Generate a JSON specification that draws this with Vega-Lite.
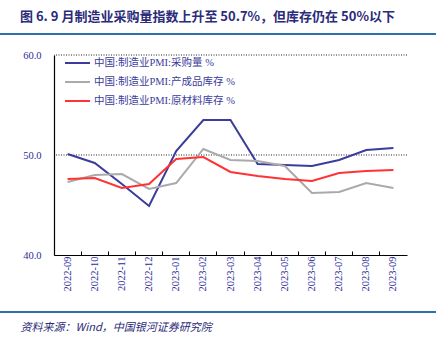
{
  "$schema": "https://vega.github.io/schema/vega-lite/v6.json",
  "autosize": {"type": "none"},
  "width": 353,
  "height": 200,
  "padding": {"left": 54, "top": 55, "right": 34, "bottom": 84},
  "background": "white",
  "config": {
    "view": {"stroke": null},
    "font": "Liberation Serif, Noto Sans CJK SC"
  },
  "title": {
    "text": "图 6. 9 月制造业采购量指数上升至 50.7%，但库存仍在 50%以下",
    "anchor": "start",
    "frame": "group",
    "dx": -34,
    "offset": 9,
    "font": "Noto Sans CJK SC",
    "fontSize": 13,
    "fontWeight": "bold",
    "color": "#2b2b7a"
  },
  "datasets": {
    "pmi": [
      {"month": "2022-09", "series": "中国:制造业PMI:采购量 %", "value": 50.1},
      {"month": "2022-10", "series": "中国:制造业PMI:采购量 %", "value": 49.2},
      {"month": "2022-11", "series": "中国:制造业PMI:采购量 %", "value": 47.1},
      {"month": "2022-12", "series": "中国:制造业PMI:采购量 %", "value": 44.9},
      {"month": "2023-01", "series": "中国:制造业PMI:采购量 %", "value": 50.4},
      {"month": "2023-02", "series": "中国:制造业PMI:采购量 %", "value": 53.5},
      {"month": "2023-03", "series": "中国:制造业PMI:采购量 %", "value": 53.5},
      {"month": "2023-04", "series": "中国:制造业PMI:采购量 %", "value": 49.1},
      {"month": "2023-05", "series": "中国:制造业PMI:采购量 %", "value": 49.0},
      {"month": "2023-06", "series": "中国:制造业PMI:采购量 %", "value": 48.9},
      {"month": "2023-07", "series": "中国:制造业PMI:采购量 %", "value": 49.5},
      {"month": "2023-08", "series": "中国:制造业PMI:采购量 %", "value": 50.5},
      {"month": "2023-09", "series": "中国:制造业PMI:采购量 %", "value": 50.7},
      {"month": "2022-09", "series": "中国:制造业PMI:产成品库存 %", "value": 47.3},
      {"month": "2022-10", "series": "中国:制造业PMI:产成品库存 %", "value": 48.0},
      {"month": "2022-11", "series": "中国:制造业PMI:产成品库存 %", "value": 48.1},
      {"month": "2022-12", "series": "中国:制造业PMI:产成品库存 %", "value": 46.6},
      {"month": "2023-01", "series": "中国:制造业PMI:产成品库存 %", "value": 47.2},
      {"month": "2023-02", "series": "中国:制造业PMI:产成品库存 %", "value": 50.6},
      {"month": "2023-03", "series": "中国:制造业PMI:产成品库存 %", "value": 49.5},
      {"month": "2023-04", "series": "中国:制造业PMI:产成品库存 %", "value": 49.4},
      {"month": "2023-05", "series": "中国:制造业PMI:产成品库存 %", "value": 48.9},
      {"month": "2023-06", "series": "中国:制造业PMI:产成品库存 %", "value": 46.2},
      {"month": "2023-07", "series": "中国:制造业PMI:产成品库存 %", "value": 46.3},
      {"month": "2023-08", "series": "中国:制造业PMI:产成品库存 %", "value": 47.2},
      {"month": "2023-09", "series": "中国:制造业PMI:产成品库存 %", "value": 46.7},
      {"month": "2022-09", "series": "中国:制造业PMI:原材料库存 %", "value": 47.6},
      {"month": "2022-10", "series": "中国:制造业PMI:原材料库存 %", "value": 47.7},
      {"month": "2022-11", "series": "中国:制造业PMI:原材料库存 %", "value": 46.7},
      {"month": "2022-12", "series": "中国:制造业PMI:原材料库存 %", "value": 47.1},
      {"month": "2023-01", "series": "中国:制造业PMI:原材料库存 %", "value": 49.6},
      {"month": "2023-02", "series": "中国:制造业PMI:原材料库存 %", "value": 49.8},
      {"month": "2023-03", "series": "中国:制造业PMI:原材料库存 %", "value": 48.3},
      {"month": "2023-04", "series": "中国:制造业PMI:原材料库存 %", "value": 47.9},
      {"month": "2023-05", "series": "中国:制造业PMI:原材料库存 %", "value": 47.6},
      {"month": "2023-06", "series": "中国:制造业PMI:原材料库存 %", "value": 47.4},
      {"month": "2023-07", "series": "中国:制造业PMI:原材料库存 %", "value": 48.2},
      {"month": "2023-08", "series": "中国:制造业PMI:原材料库存 %", "value": 48.4},
      {"month": "2023-09", "series": "中国:制造业PMI:原材料库存 %", "value": 48.5}
    ],
    "grid": [{"level": 60}, {"level": 50}],
    "separators": [{"pos": 62.1}, {"pos": 34.3}]
  },
  "layer": [
    {
      "data": {"name": "grid"},
      "mark": {"type": "rule", "stroke": "#222222", "strokeWidth": 1, "strokeDash": [1, 1.5]},
      "encoding": {
        "y": {"field": "level", "type": "quantitative", "scale": {"domain": [40, 60]}}
      }
    },
    {
      "data": {"name": "separators"},
      "mark": {"type": "rule", "stroke": "#2e6fae", "strokeWidth": 2, "clip": false},
      "encoding": {
        "y": {"field": "pos", "type": "quantitative"},
        "x": {"value": -54},
        "x2": {"value": 382}
      }
    },
    {
      "data": {"name": "pmi"},
      "mark": {"type": "line", "strokeWidth": 2},
      "encoding": {
        "x": {
          "field": "month",
          "type": "ordinal",
          "scale": {"type": "band", "paddingInner": 0, "paddingOuter": 0},
          "axis": {
            "title": "资料来源：Wind，中国银河证券研究院",
            "titleFont": "Noto Sans CJK SC",
            "titleFontStyle": "italic",
            "titleFontWeight": "normal",
            "titleFontSize": 11,
            "titleColor": "#2b2b7a",
            "titleAnchor": "start",
            "titleAlign": "left",
            "titleBaseline": "middle",
            "titleX": -34,
            "titleY": 72,
            "labelAngle": -90,
            "labelAlign": "right",
            "labelBaseline": "middle",
            "labelFontSize": 10.5,
            "labelColor": "#2b2b9a",
            "labelPadding": 5,
            "bandPosition": 0,
            "tickSize": -4,
            "tickColor": "#000000",
            "domainColor": "#000000",
            "domainWidth": 1.2,
            "grid": false
          }
        },
        "y": {
          "field": "value",
          "type": "quantitative",
          "scale": {"domain": [40, 60], "nice": false, "zero": false},
          "axis": {
            "title": null,
            "values": [40, 50, 60],
            "format": ".1f",
            "labelFontSize": 10.5,
            "labelColor": "#2b2b9a",
            "labelPadding": 13,
            "ticks": false,
            "domainColor": "#000000",
            "domainWidth": 1.2,
            "grid": false
          }
        },
        "color": {
          "field": "series",
          "type": "nominal",
          "scale": {
            "domain": ["中国:制造业PMI:采购量 %", "中国:制造业PMI:产成品库存 %", "中国:制造业PMI:原材料库存 %"],
            "range": ["#3c3c9c", "#aaaaaa", "#ff3333"]
          },
          "legend": {
            "title": null,
            "orient": "none",
            "legendX": 10,
            "legendY": -5.5,
            "symbolType": "stroke",
            "symbolSize": 625,
            "symbolStrokeWidth": 2,
            "labelFontSize": 10.5,
            "labelColor": "#3c3c9c",
            "labelOffset": 3,
            "rowPadding": -8.5
          }
        }
      }
    }
  ]
}
